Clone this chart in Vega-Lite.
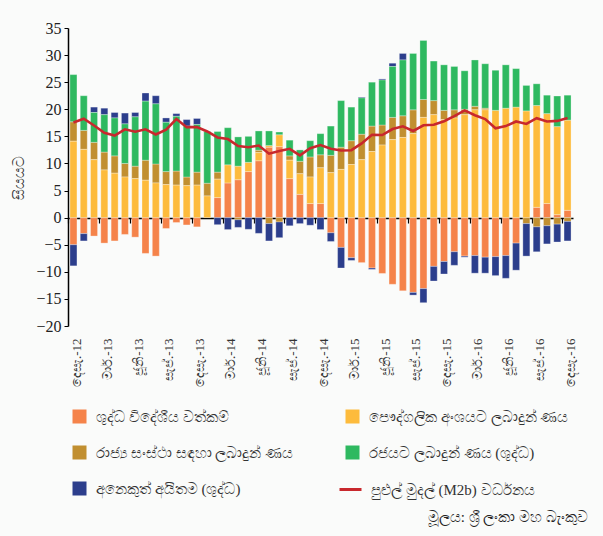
{
  "$schema": "https://vega.github.io/schema/vega-lite/v6.json",
  "width": 505,
  "height": 298,
  "autosize": {"type": "none"},
  "padding": {"left": 68, "top": 28, "right": 30, "bottom": 210},
  "background": "#fafbfa",
  "config": {"view": {"stroke": null}, "font": "Liberation Serif"},
  "title": {
    "text": "මූලය: ශ්‍රී ලංකා මහ බැංකුව",
    "orient": "bottom",
    "anchor": "end",
    "frame": "group",
    "fontSize": 15,
    "fontWeight": "normal",
    "color": "#222",
    "offset": 12,
    "dx": 15
  },
  "datasets": {
    "bars": [
      {"m":"2012-12","k":"a","v":-5.0},{"m":"2012-12","k":"b","v":14.1},{"m":"2012-12","k":"c","v":3.6},{"m":"2012-12","k":"d","v":8.7},{"m":"2012-12","k":"e","v":-3.9},
      {"m":"2013-01","k":"a","v":-2.95},{"m":"2013-01","k":"b","v":12.6},{"m":"2013-01","k":"c","v":3.5},{"m":"2013-01","k":"d","v":6.4},{"m":"2013-01","k":"e","v":-1.35},
      {"m":"2013-02","k":"a","v":-3.4},{"m":"2013-02","k":"b","v":10.7},{"m":"2013-02","k":"c","v":3.2},{"m":"2013-02","k":"d","v":5.5},{"m":"2013-02","k":"e","v":1.0},
      {"m":"2013-03","k":"a","v":-4.7},{"m":"2013-03","k":"b","v":8.8},{"m":"2013-03","k":"c","v":3.3},{"m":"2013-03","k":"d","v":6.9},{"m":"2013-03","k":"e","v":1.2},
      {"m":"2013-04","k":"a","v":-4.3},{"m":"2013-04","k":"b","v":8.2},{"m":"2013-04","k":"c","v":3.2},{"m":"2013-04","k":"d","v":7.0},{"m":"2013-04","k":"e","v":1.0},
      {"m":"2013-05","k":"a","v":-3.1},{"m":"2013-05","k":"b","v":7.5},{"m":"2013-05","k":"c","v":2.5},{"m":"2013-05","k":"d","v":7.3},{"m":"2013-05","k":"e","v":2.0},
      {"m":"2013-06","k":"a","v":-3.6},{"m":"2013-06","k":"b","v":7.2},{"m":"2013-06","k":"c","v":2.3},{"m":"2013-06","k":"d","v":9.1},{"m":"2013-06","k":"e","v":0.8},
      {"m":"2013-07","k":"a","v":-6.6},{"m":"2013-07","k":"b","v":6.9},{"m":"2013-07","k":"c","v":3.7},{"m":"2013-07","k":"d","v":10.9},{"m":"2013-07","k":"e","v":1.5},
      {"m":"2013-08","k":"a","v":-7.1},{"m":"2013-08","k":"b","v":6.4},{"m":"2013-08","k":"c","v":3.5},{"m":"2013-08","k":"d","v":11.1},{"m":"2013-08","k":"e","v":1.5},
      {"m":"2013-09","k":"a","v":-2.0},{"m":"2013-09","k":"b","v":6.1},{"m":"2013-09","k":"c","v":2.4},{"m":"2013-09","k":"d","v":9.1},{"m":"2013-09","k":"e","v":0.8},
      {"m":"2013-10","k":"a","v":-0.9},{"m":"2013-10","k":"b","v":6.0},{"m":"2013-10","k":"c","v":2.6},{"m":"2013-10","k":"d","v":10.1},{"m":"2013-10","k":"e","v":0.5},
      {"m":"2013-11","k":"a","v":-1.35},{"m":"2013-11","k":"b","v":5.9},{"m":"2013-11","k":"c","v":1.6},{"m":"2013-11","k":"d","v":9.4},{"m":"2013-11","k":"e","v":1.2},
      {"m":"2013-12","k":"a","v":-1.7},{"m":"2013-12","k":"b","v":6.0},{"m":"2013-12","k":"c","v":2.4},{"m":"2013-12","k":"d","v":8.8},{"m":"2013-12","k":"e","v":1.1},
      {"m":"2014-01","k":"b","v":4.0},{"m":"2014-01","k":"c","v":2.35},{"m":"2014-01","k":"d","v":9.55},
      {"m":"2014-02","k":"a","v":3.7},{"m":"2014-02","k":"b","v":3.4},{"m":"2014-02","k":"c","v":1.3},{"m":"2014-02","k":"d","v":7.5},{"m":"2014-02","k":"e","v":-1.3},
      {"m":"2014-03","k":"a","v":6.4},{"m":"2014-03","k":"b","v":3.35},{"m":"2014-03","k":"d","v":6.85},{"m":"2014-03","k":"e","v":-2.2},
      {"m":"2014-04","k":"a","v":7.0},{"m":"2014-04","k":"b","v":2.5},{"m":"2014-04","k":"c","v":-0.4},{"m":"2014-04","k":"d","v":5.4},{"m":"2014-04","k":"e","v":-1.4},
      {"m":"2014-05","k":"a","v":8.5},{"m":"2014-05","k":"b","v":1.7},{"m":"2014-05","k":"d","v":4.8},{"m":"2014-05","k":"e","v":-2.15},
      {"m":"2014-06","k":"a","v":10.5},{"m":"2014-06","k":"b","v":1.5},{"m":"2014-06","k":"c","v":0.45},{"m":"2014-06","k":"d","v":3.55},{"m":"2014-06","k":"e","v":-2.9},
      {"m":"2014-07","k":"a","v":13.0},{"m":"2014-07","k":"b","v":0.3},{"m":"2014-07","k":"c","v":-1.1},{"m":"2014-07","k":"d","v":2.7},{"m":"2014-07","k":"e","v":-3.2},
      {"m":"2014-08","k":"a","v":13.1},{"m":"2014-08","k":"b","v":2.2},{"m":"2014-08","k":"c","v":-0.8},{"m":"2014-08","k":"d","v":0.5},{"m":"2014-08","k":"e","v":-2.9},
      {"m":"2014-09","k":"a","v":7.2},{"m":"2014-09","k":"b","v":3.4},{"m":"2014-09","k":"c","v":0.8},{"m":"2014-09","k":"d","v":2.9},{"m":"2014-09","k":"e","v":-1.5},
      {"m":"2014-10","k":"a","v":4.3},{"m":"2014-10","k":"b","v":3.8},{"m":"2014-10","k":"c","v":2.3},{"m":"2014-10","k":"d","v":2.1},{"m":"2014-10","k":"e","v":-1.1},
      {"m":"2014-11","k":"a","v":2.6},{"m":"2014-11","k":"b","v":4.9},{"m":"2014-11","k":"c","v":3.7},{"m":"2014-11","k":"d","v":3.0},{"m":"2014-11","k":"e","v":-1.4},
      {"m":"2014-12","k":"a","v":2.6},{"m":"2014-12","k":"b","v":6.6},{"m":"2014-12","k":"c","v":2.4},{"m":"2014-12","k":"d","v":3.9},{"m":"2014-12","k":"e","v":-2.2},
      {"m":"2015-01","k":"a","v":-2.8},{"m":"2015-01","k":"b","v":8.3},{"m":"2015-01","k":"c","v":3.2},{"m":"2015-01","k":"d","v":5.4},{"m":"2015-01","k":"e","v":-1.6},
      {"m":"2015-02","k":"a","v":-5.5},{"m":"2015-02","k":"b","v":8.9},{"m":"2015-02","k":"c","v":4.1},{"m":"2015-02","k":"d","v":8.6},{"m":"2015-02","k":"e","v":-3.8},
      {"m":"2015-03","k":"a","v":-7.4},{"m":"2015-03","k":"b","v":9.8},{"m":"2015-03","k":"c","v":4.4},{"m":"2015-03","k":"d","v":6.2},{"m":"2015-03","k":"e","v":-0.5},
      {"m":"2015-04","k":"a","v":-8.3},{"m":"2015-04","k":"b","v":10.7},{"m":"2015-04","k":"c","v":4.7},{"m":"2015-04","k":"d","v":6.7},{"m":"2015-04","k":"e","v":0.15},
      {"m":"2015-05","k":"a","v":-9.3},{"m":"2015-05","k":"b","v":12.2},{"m":"2015-05","k":"c","v":4.7},{"m":"2015-05","k":"d","v":8.1},{"m":"2015-05","k":"e","v":-0.25},
      {"m":"2015-06","k":"a","v":-10.3},{"m":"2015-06","k":"b","v":13.4},{"m":"2015-06","k":"c","v":3.7},{"m":"2015-06","k":"d","v":8.3},{"m":"2015-06","k":"e","v":0.2},
      {"m":"2015-07","k":"a","v":-12.3},{"m":"2015-07","k":"b","v":14.4},{"m":"2015-07","k":"c","v":4.1},{"m":"2015-07","k":"d","v":9.4},{"m":"2015-07","k":"e","v":0.6},
      {"m":"2015-08","k":"a","v":-13.5},{"m":"2015-08","k":"b","v":14.8},{"m":"2015-08","k":"c","v":4.0},{"m":"2015-08","k":"d","v":10.3},{"m":"2015-08","k":"e","v":1.2},
      {"m":"2015-09","k":"a","v":-13.8},{"m":"2015-09","k":"b","v":15.5},{"m":"2015-09","k":"c","v":4.4},{"m":"2015-09","k":"d","v":10.4},{"m":"2015-09","k":"e","v":-0.5},
      {"m":"2015-10","k":"a","v":-13.1},{"m":"2015-10","k":"b","v":18.5},{"m":"2015-10","k":"c","v":3.3},{"m":"2015-10","k":"d","v":10.9},{"m":"2015-10","k":"e","v":-2.6},
      {"m":"2015-11","k":"a","v":-9.0},{"m":"2015-11","k":"b","v":19.0},{"m":"2015-11","k":"c","v":2.6},{"m":"2015-11","k":"d","v":7.3},{"m":"2015-11","k":"e","v":-2.7},
      {"m":"2015-12","k":"a","v":-8.1},{"m":"2015-12","k":"b","v":18.1},{"m":"2015-12","k":"c","v":1.7},{"m":"2015-12","k":"d","v":8.4},{"m":"2015-12","k":"e","v":-2.3},
      {"m":"2016-01","k":"a","v":-6.3},{"m":"2016-01","k":"b","v":18.4},{"m":"2016-01","k":"c","v":1.5},{"m":"2016-01","k":"d","v":8.0},{"m":"2016-01","k":"e","v":-2.5},
      {"m":"2016-02","k":"a","v":-7.1},{"m":"2016-02","k":"b","v":19.0},{"m":"2016-02","k":"c","v":1.0},{"m":"2016-02","k":"d","v":7.1},{"m":"2016-02","k":"e","v":-0.2},
      {"m":"2016-03","k":"a","v":-7.0},{"m":"2016-03","k":"b","v":19.9},{"m":"2016-03","k":"c","v":0.65},{"m":"2016-03","k":"d","v":8.55},{"m":"2016-03","k":"e","v":-3.25},
      {"m":"2016-04","k":"a","v":-7.3},{"m":"2016-04","k":"b","v":19.9},{"m":"2016-04","k":"c","v":0.3},{"m":"2016-04","k":"d","v":8.2},{"m":"2016-04","k":"e","v":-2.95},
      {"m":"2016-05","k":"a","v":-7.2},{"m":"2016-05","k":"b","v":19.8},{"m":"2016-05","k":"d","v":7.4},{"m":"2016-05","k":"e","v":-3.5},
      {"m":"2016-06","k":"a","v":-7.0},{"m":"2016-06","k":"b","v":20.2},{"m":"2016-06","k":"d","v":8.0},{"m":"2016-06","k":"e","v":-4.2},
      {"m":"2016-07","k":"a","v":-4.7},{"m":"2016-07","k":"b","v":20.4},{"m":"2016-07","k":"d","v":7.1},{"m":"2016-07","k":"e","v":-5.0},
      {"m":"2016-08","k":"b","v":19.7},{"m":"2016-08","k":"c","v":-1.1},{"m":"2016-08","k":"d","v":4.7},{"m":"2016-08","k":"e","v":-6.0},
      {"m":"2016-09","k":"a","v":1.9},{"m":"2016-09","k":"b","v":18.8},{"m":"2016-09","k":"c","v":-1.7},{"m":"2016-09","k":"d","v":4.0},{"m":"2016-09","k":"e","v":-4.6},
      {"m":"2016-10","k":"a","v":2.6},{"m":"2016-10","k":"b","v":16.6},{"m":"2016-10","k":"c","v":-1.5},{"m":"2016-10","k":"d","v":3.4},{"m":"2016-10","k":"e","v":-3.35},
      {"m":"2016-11","k":"a","v":0.55},{"m":"2016-11","k":"b","v":16.25},{"m":"2016-11","k":"c","v":-1.2},{"m":"2016-11","k":"d","v":5.65},{"m":"2016-11","k":"e","v":-3.3},
      {"m":"2016-12","k":"a","v":1.35},{"m":"2016-12","k":"b","v":16.65},{"m":"2016-12","k":"c","v":-0.7},{"m":"2016-12","k":"d","v":4.6},{"m":"2016-12","k":"e","v":-3.6}
    ],
    "m2b": [
      {"m":"2012-12","value":17.55},{"m":"2013-01","value":18.25},{"m":"2013-02","value":17.0},{"m":"2013-03","value":15.65},
      {"m":"2013-04","value":15.15},{"m":"2013-05","value":16.3},{"m":"2013-06","value":15.85},{"m":"2013-07","value":16.3},
      {"m":"2013-08","value":15.35},{"m":"2013-09","value":16.25},{"m":"2013-10","value":18.2},{"m":"2013-11","value":16.7},
      {"m":"2013-12","value":16.7},{"m":"2014-01","value":15.9},{"m":"2014-02","value":14.8},{"m":"2014-03","value":14.5},
      {"m":"2014-04","value":13.2},{"m":"2014-05","value":13.0},{"m":"2014-06","value":13.3},{"m":"2014-07","value":11.8},
      {"m":"2014-08","value":12.3},{"m":"2014-09","value":12.7},{"m":"2014-10","value":11.5},{"m":"2014-11","value":12.8},
      {"m":"2014-12","value":13.4},{"m":"2015-01","value":12.7},{"m":"2015-02","value":12.4},{"m":"2015-03","value":12.45},
      {"m":"2015-04","value":13.7},{"m":"2015-05","value":15.3},{"m":"2015-06","value":15.25},{"m":"2015-07","value":16.35},
      {"m":"2015-08","value":16.85},{"m":"2015-09","value":16.0},{"m":"2015-10","value":17.05},{"m":"2015-11","value":17.15},
      {"m":"2015-12","value":17.8},{"m":"2016-01","value":18.75},{"m":"2016-02","value":19.8},{"m":"2016-03","value":18.9},
      {"m":"2016-04","value":18.2},{"m":"2016-05","value":16.5},{"m":"2016-06","value":16.9},{"m":"2016-07","value":17.75},
      {"m":"2016-08","value":17.3},{"m":"2016-09","value":18.35},{"m":"2016-10","value":17.75},{"m":"2016-11","value":17.85},
      {"m":"2016-12","value":18.4}
    ]
  },
  "encoding": {
    "x": {
      "field": "m",
      "type": "ordinal",
      "scale": {"paddingInner": 0.32, "paddingOuter": 0.19},
      "axis": {
        "title": null,
        "values": ["2012-12","2013-03","2013-06","2013-09","2013-12","2014-03","2014-06","2014-09","2014-12","2015-03","2015-06","2015-09","2015-12","2016-03","2016-06","2016-09","2016-12"],
        "labelExpr": "(substring(datum.value,5,7)=='12' ? 'දෙසැ.' : substring(datum.value,5,7)=='03' ? 'මාර්.' : substring(datum.value,5,7)=='06' ? 'ජූනි' : 'සැප්.') + '-' + substring(datum.value,2,4)",
        "offset": -108,
        "domainColor": "#000000",
        "domainWidth": 1.5,
        "tickColor": "#000000",
        "tickSize": 5,
        "tickWidth": 1.2,
        "tickOffset": -5.15,
        "labelOffset": 8,
        "labelAngle": 270,
        "labelPadding": 115,
        "labelFont": "Liberation Serif",
        "labelFontSize": 13,
        "labelColor": "#333333",
        "grid": false
      }
    },
    "y": {
      "field": "value",
      "type": "quantitative",
      "scale": {"domain": [-20, 35], "nice": false, "zero": false},
      "axis": {
        "title": "සියයට",
        "values": [-20,-15,-10,-5,0,5,10,15,20,25,30,35],
        "domainColor": "#000000",
        "domainWidth": 1.5,
        "tickColor": "#000000",
        "tickSize": 4,
        "labelFont": "Liberation Serif",
        "labelFontSize": 16,
        "labelColor": "#222222",
        "labelPadding": 3,
        "grid": false,
        "titleFontSize": 15,
        "titleFontWeight": "normal",
        "titleColor": "#333333",
        "titlePadding": 9
      }
    }
  },
  "layer": [
    {
      "data": {"name": "bars"},
      "transform": [
        {"stack": "v", "groupby": ["m"], "sort": [{"field": "k", "order": "ascending"}], "as": ["value", "value_end"], "offset": "zero"},
        {"filter": "indexof(['a','c','e'], datum.k) >= 0"}
      ],
      "mark": {"type": "bar", "stroke": "#ffffff", "strokeWidth": 0.5, "strokeOpacity": 0.6},
      "encoding": {
        "y2": {"field": "value_end"},
        "fill": {
          "field": "k",
          "type": "nominal",
          "scale": {"domain": ["a", "c", "e"], "range": ["#f5834a", "#c18f30", "#2c3e8c"]},
          "legend": {
            "orient": "none",
            "legendX": 4,
            "legendY": 381,
            "direction": "vertical",
            "title": null,
            "symbolType": "square",
            "symbolSize": 196,
            "symbolStrokeWidth": 0,
            "labelFontSize": 15,
            "labelColor": "#333333",
            "labelOffset": 9,
            "labelLimit": 400,
            "rowPadding": 20,
            "labelExpr": "datum.value == 'a' ? 'ශුද්ධ විදේශීය වත්කම්' : datum.value == 'c' ? 'රාජ්‍ය සංස්ථා සඳහා ලබාදුන් ණය' : 'අනෙකුත් අයිතම (ශුද්ධ)'"
          }
        }
      }
    },
    {
      "data": {"name": "bars"},
      "transform": [
        {"stack": "v", "groupby": ["m"], "sort": [{"field": "k", "order": "ascending"}], "as": ["value", "value_end"], "offset": "zero"},
        {"filter": "indexof(['b','d'], datum.k) >= 0"}
      ],
      "mark": {"type": "bar", "stroke": "#ffffff", "strokeWidth": 0.5, "strokeOpacity": 0.6},
      "encoding": {
        "y2": {"field": "value_end"},
        "color": {
          "field": "k",
          "type": "nominal",
          "scale": {"domain": ["b", "d"], "range": ["#fdbb3c", "#2eb960"]},
          "legend": {
            "orient": "none",
            "legendX": 277,
            "legendY": 381,
            "direction": "vertical",
            "title": null,
            "symbolType": "square",
            "symbolSize": 196,
            "symbolStrokeWidth": 0,
            "labelFontSize": 15,
            "labelColor": "#333333",
            "labelOffset": 9,
            "labelLimit": 400,
            "rowPadding": 20,
            "labelExpr": "datum.value == 'b' ? 'පෞද්ගලික අංශයට ලබාදුන් ණය' : 'රජයට ලබාදුන් ණය (ශුද්ධ)'"
          }
        }
      }
    },
    {
      "data": {"name": "m2b"},
      "mark": {"type": "line", "strokeWidth": 2.6},
      "encoding": {
        "stroke": {
          "datum": "පුළුල් මුදල් (M2b) වර්ධනය",
          "type": "nominal",
          "scale": {"range": ["#c8282d"]},
          "legend": {
            "orient": "none",
            "legendX": 270,
            "legendY": 449,
            "title": null,
            "symbolType": "stroke",
            "symbolSize": 484,
            "symbolStrokeWidth": 3,
            "labelFontSize": 15,
            "labelColor": "#333333",
            "labelOffset": 8,
            "labelLimit": 400
          }
        }
      }
    }
  ]
}
